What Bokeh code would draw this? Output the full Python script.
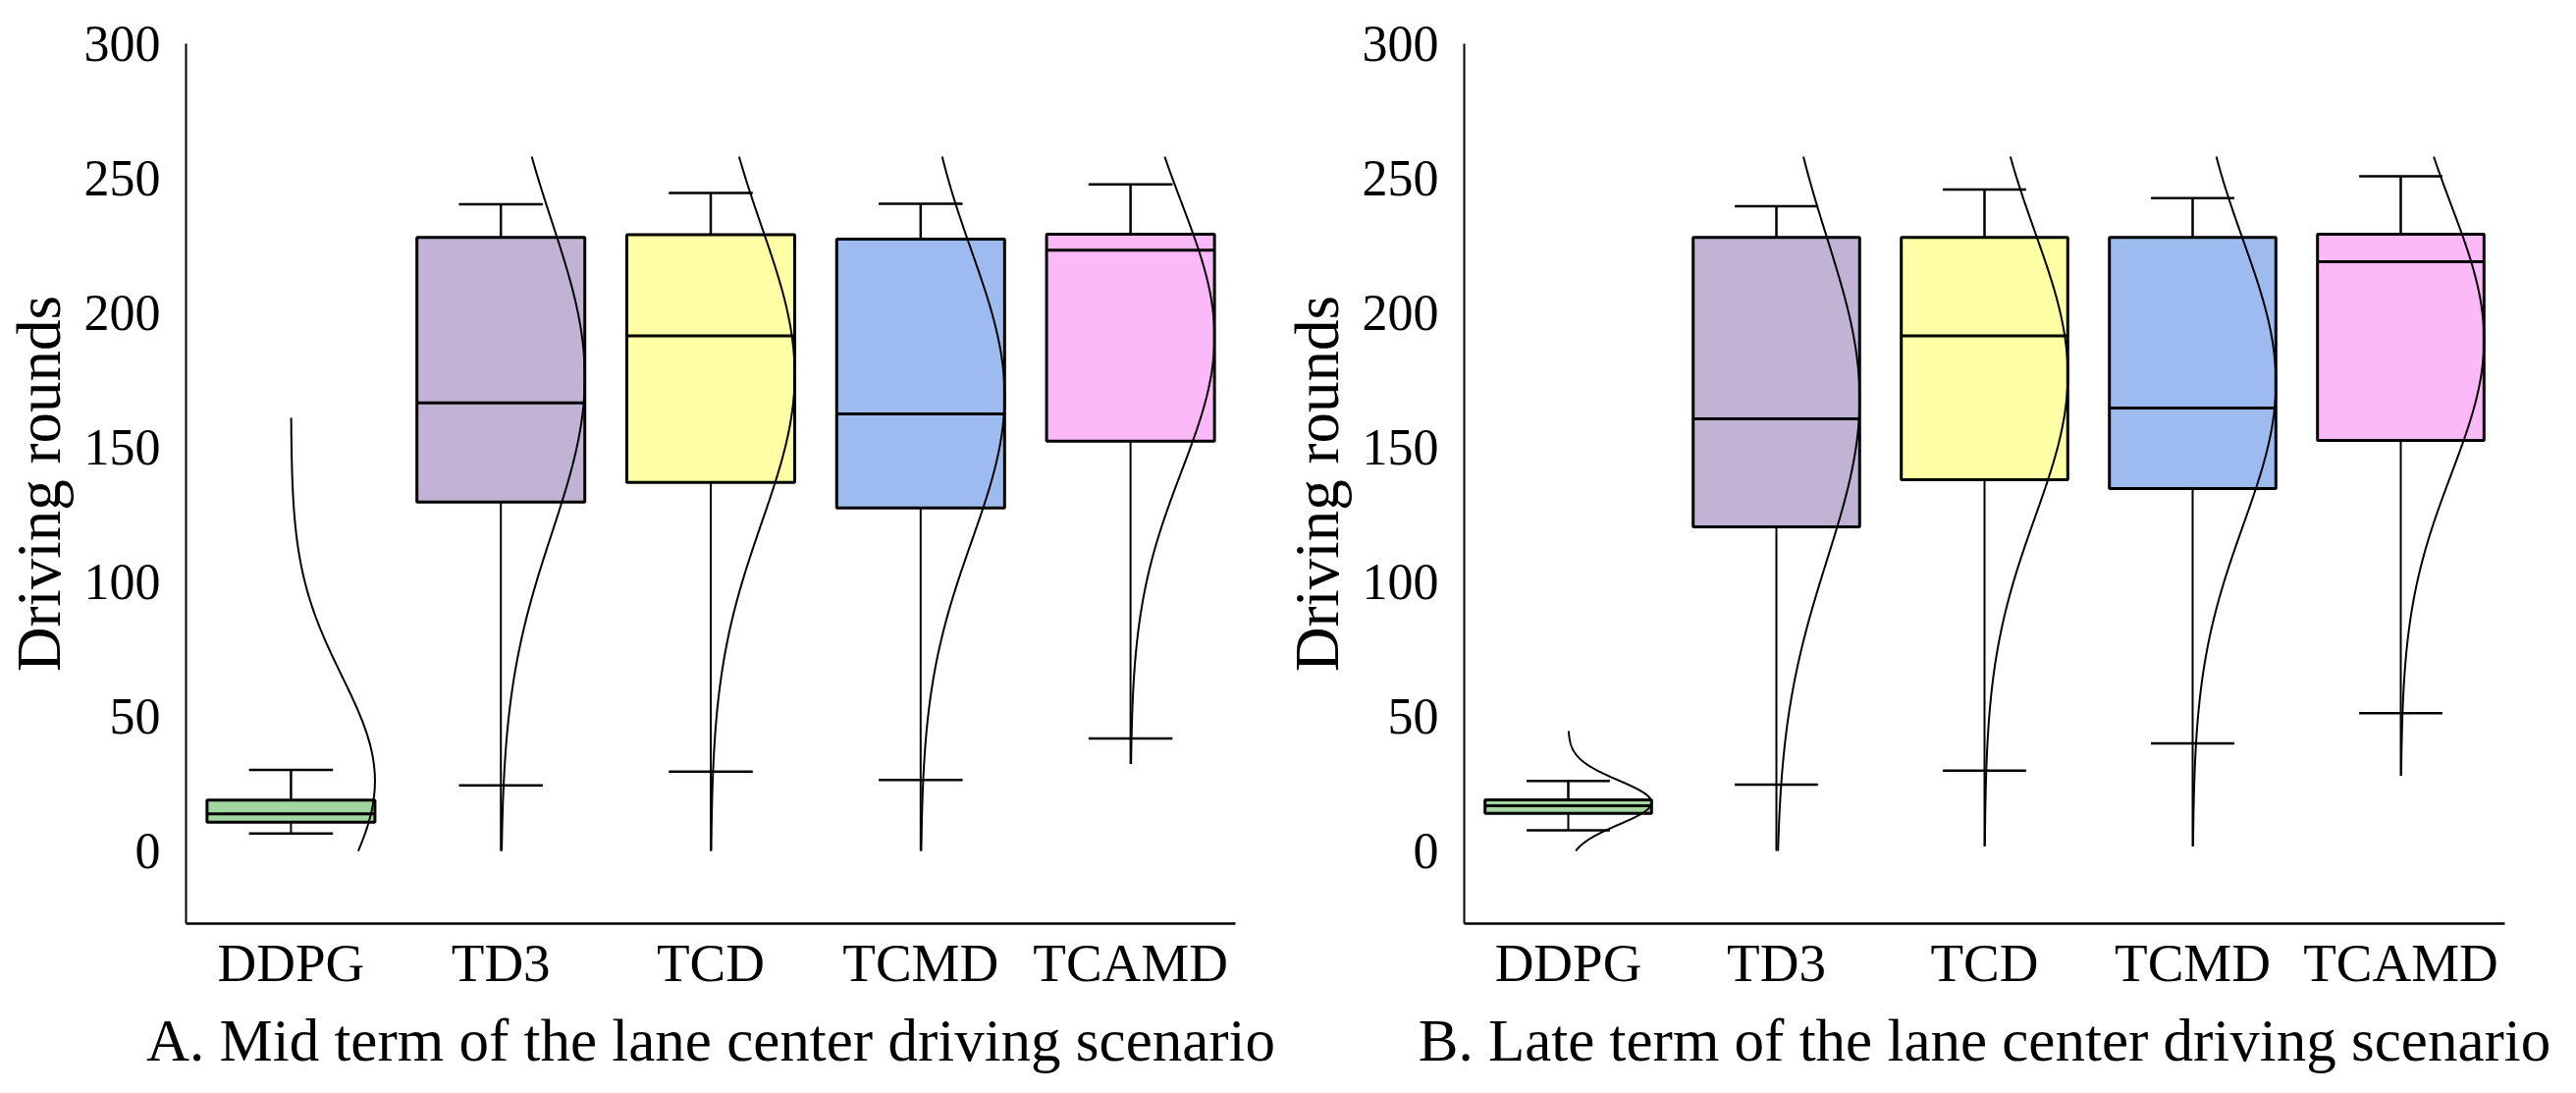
import numpy as np
from bokeh.plotting import figure
from bokeh.layouts import row
from bokeh.models import Range1d, FixedTicker
from bokeh.embed import file_html
from bokeh.resources import INLINE

categories = ["DDPG", "TD3", "TCD", "TCMD", "TCAMD"]
colors = ["#a3d5a0", "#c0b3d4", "#ffffa6", "#9dbbef", "#fbb9f7"]
y_ticks = [0, 50, 100, 150, 200, 250, 300]

# Panel A: mid term
a_q1 = [10.7, 129.7, 137.0, 127.5, 152.3]
a_med = [13.8, 166.5, 191.4, 162.4, 223.3]
a_q3 = [18.9, 228.0, 229.0, 227.4, 229.2]
a_upper = [30.1, 240.3, 244.5, 240.5, 247.7]
a_lower_cap = [6.5, 24.4, 29.5, 26.4, 41.8]
a_line_end = [6.5, 0.0, 0.0, 0.0, 32.3]
a_curve_mean = [26.0, 176.0, 177.0, 169.0, 191.0]
a_curve_sd = [39.0, 58.0, 55.0, 54.0, 50.0]
a_curve_lo = [0.0, 0.0, 0.0, 0.0, 32.3]
a_curve_hi = [161.0, 258.0, 258.0, 258.0, 258.0]

# Panel B: late term
b_q1 = [14.0, 120.4, 138.0, 134.7, 152.6]
b_med = [16.8, 160.6, 191.4, 164.6, 219.0]
b_q3 = [19.0, 228.0, 228.0, 228.0, 229.2]
b_upper = [26.0, 239.6, 245.8, 242.6, 250.7]
b_lower_cap = [7.7, 24.6, 29.8, 40.0, 51.2]
b_line_end = [7.7, 0.0, 1.7, 1.7, 28.0]
b_curve_mean = [18.0, 168.0, 177.0, 174.0, 190.0]
b_curve_sd = [8.2, 60.0, 53.0, 53.0, 50.0]
b_curve_lo = [0.0, 0.0, 1.7, 1.7, 28.0]
b_curve_hi = [44.6, 258.0, 258.0, 258.0, 258.0]

FONT = "Liberation Serif"
BOX_W = 0.8
CAP_W = 0.4


def make_panel(title, q1, med, q3, upper, lcap, lend, cm, cs, clo, chi, width, left, right):
    p = figure(width=width, height=1105, x_range=Range1d(0, 5), y_range=Range1d(-27, 300),
               output_backend="svg", toolbar_location=None,
               min_border_left=left, min_border_right=right, min_border_top=44,
               min_border_bottom=165)
    p.outline_line_color = None
    p.grid.visible = False
    p.background_fill_color = "white"
    p.border_fill_color = "white"

    xs = [i + 0.5 for i in range(len(categories))]

    # boxes
    p.vbar(x=xs, width=BOX_W, bottom=q1, top=q3, fill_color=colors,
           line_color="black", line_width=3)
    # medians
    p.segment(x0=[x - BOX_W / 2 for x in xs], x1=[x + BOX_W / 2 for x in xs],
              y0=med, y1=med, line_color="black", line_width=3)
    # upper whiskers and caps
    p.segment(x0=xs, x1=xs, y0=q3, y1=upper, line_color="black", line_width=2.5)
    p.segment(x0=[x - CAP_W / 2 for x in xs], x1=[x + CAP_W / 2 for x in xs],
              y0=upper, y1=upper, line_color="black", line_width=2.5)
    # lower whiskers and caps
    p.segment(x0=xs, x1=xs, y0=q1, y1=lend, line_color="black", line_width=2)
    p.segment(x0=[x - CAP_W / 2 for x in xs], x1=[x + CAP_W / 2 for x in xs],
              y0=lcap, y1=lcap, line_color="black", line_width=2.5)

    # normal curves
    cxs, cys = [], []
    for x, m, s, lo, hi in zip(xs, cm, cs, clo, chi):
        yy = np.linspace(lo, hi, 300)
        dens = np.exp(-0.5 * ((yy - m) / s) ** 2)
        cxs.append(list(x + dens * BOX_W / 2))
        cys.append(list(yy))
    p.multi_line(xs=cxs, ys=cys, line_color="black", line_width=2)

    # x axis
    p.xaxis.ticker = FixedTicker(ticks=xs)
    p.xaxis.major_label_overrides = {x: c for x, c in zip(xs, categories)}
    p.xaxis.major_tick_line_color = None
    p.xaxis.minor_tick_line_color = None
    p.xaxis.axis_line_width = 2.5
    p.xaxis.axis_line_color = "black"
    p.xaxis.major_label_text_font = FONT
    p.xaxis.major_label_text_font_size = "55px"
    p.xaxis.major_label_text_color = "black"
    p.xaxis.major_label_standoff = 3
    p.xaxis.axis_label = title
    p.xaxis.axis_label_text_font = FONT
    p.xaxis.axis_label_text_font_size = "61px"
    p.xaxis.axis_label_text_font_style = "normal"
    p.xaxis.axis_label_text_color = "black"
    p.xaxis.axis_label_standoff = 12

    # y axis
    p.yaxis.ticker = FixedTicker(ticks=y_ticks)
    p.yaxis.major_tick_line_color = None
    p.yaxis.minor_tick_line_color = None
    p.yaxis.axis_line_width = 2
    p.yaxis.axis_line_color = "black"
    p.yaxis.major_label_text_font = FONT
    p.yaxis.major_label_text_font_size = "52px"
    p.yaxis.major_label_text_color = "black"
    p.yaxis.major_label_standoff = 20
    p.yaxis.axis_label = "Driving rounds"
    p.yaxis.axis_label_text_font = FONT
    p.yaxis.axis_label_text_font_size = "63px"
    p.yaxis.axis_label_text_font_style = "normal"
    p.yaxis.axis_label_text_color = "black"
    p.yaxis.axis_label_standoff = 8
    return p


pA = make_panel("A. Mid term of the lane center driving scenario",
                a_q1, a_med, a_q3, a_upper, a_lower_cap, a_line_end,
                a_curve_mean, a_curve_sd, a_curve_lo, a_curve_hi, 1303, 189, 45)
pB = make_panel("B. Late term of the lane center driving scenario",
                b_q1, b_med, b_q3, b_upper, b_lower_cap, b_line_end,
                b_curve_mean, b_curve_sd, b_curve_lo, b_curve_hi, 1313, 181, 65)

layout = row(pA, pB)
open("out.html", "w").write(file_html(layout, INLINE))
